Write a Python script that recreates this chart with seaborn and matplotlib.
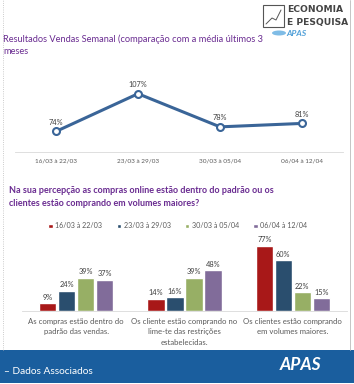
import matplotlib
matplotlib.use("Agg")
import matplotlib.pyplot as plt
import matplotlib.patches as mpatches
import seaborn as sns
import pandas as pd

# data
weeks = ["16/03 à 22/03", "23/03 à 29/03", "30/03 à 05/04", "06/04 à 12/04"]
sales_vs_avg = [74, 107, 78, 81]

answers = ["As compras estão dentro do\npadrão das vendas.",
           "Os cliente estão comprando no\nlime-te das restrições\nestabelecidas.",
           "Os clientes estão comprando\nem volumes maiores."]
wk1 = [9, 14, 77]
wk2 = [24, 16, 60]
wk3 = [39, 39, 22]
wk4 = [37, 48, 15]

bar_colors = ["#C00000", "#1F4E79", "#9BBB59", "#8064A2"]
purple = "#6A2C91"
gray = "#595959"

sns.set_theme(style="white")
plt.rcParams["font.family"] = ["Lato", "DejaVu Sans"]

fig = plt.figure(figsize=(3.54, 3.84), dpi=100)
W, H = 354, 384

def box(x0, y0, x1, y1):
    # pixel box (top-left origin) -> figure fraction
    return [x0 / W, 1 - y1 / H, (x1 - x0) / W, (y1 - y0) / H]

# page borders
fig.add_artist(plt.Line2D([3 / W, 3 / W], [1 - 350 / H, 1], color="#BBBBBB", lw=0.6, ls=":"))
fig.add_artist(plt.Line2D([350 / W, 350 / W], [1 - 350 / H, 1], color="#BBBBBB", lw=0.6))

# logo top right
fig.add_artist(mpatches.Rectangle((263 / W, 1 - 27 / H), 21 / W, 22 / H, fill=False,
                                  ec="#555555", lw=0.8))
fig.add_artist(plt.Line2D([266 / W, 272 / W, 276 / W, 281 / W],
                          [1 - 24 / H, 1 - 18 / H, 1 - 20 / H, 1 - 10 / H], color="#555555", lw=0.7))
fig.text(287 / W, 1 - 10 / H, "ECONOMIA", fontsize=6.6, fontweight="bold", color="#444444",
         va="center", family=["DejaVu Sans"])
fig.text(287 / W, 1 - 22 / H, "E PESQUISA", fontsize=6.6, fontweight="bold", color="#444444",
         va="center", family=["DejaVu Sans"])
fig.add_artist(mpatches.Ellipse((279 / W, 1 - 33 / H), 14 / W, 5 / H, color="#7FBCE6", lw=0))
fig.text(286 / W, 1 - 33 / H, "APAS", fontsize=6, fontweight="bold", style="italic",
         color="#4F9FD8", va="center")

# titles
fig.text(3 / W, 1 - 39 / H, "Resultados Vendas Semanal (comparação com a média últimos 3",
         fontsize=6.7, color=purple, va="center")
fig.text(3 / W, 1 - 51 / H, "meses", fontsize=6.7, color=purple, va="center")

# line chart
ax1 = fig.add_axes(box(15, 80, 343, 152))
line_df = pd.DataFrame({"week": weeks, "value": sales_vs_avg})
sns.lineplot(data=line_df, x="week", y="value", ax=ax1, color="#3A6598", lw=2.2,
             marker="o", markersize=5, markerfacecolor="white", markeredgecolor="#3A6598",
             markeredgewidth=1.5, sort=False)
for i, v in enumerate(sales_vs_avg):
    ax1.text(i, v + 5, f"{v}%", ha="center", va="bottom", fontsize=5.3, color="#404040")
ax1.set_xlim(-0.5, 3.5)
ax1.set_ylim(56, 119)
ax1.set_xlabel("")
ax1.set_ylabel("")
ax1.set_yticks([])
ax1.tick_params(axis="x", labelsize=4.6, labelcolor=gray, length=0, pad=5)
for s in ["top", "left", "right"]:
    ax1.spines[s].set_visible(False)
ax1.spines["bottom"].set_color("#D9D9D9")
ax1.spines["bottom"].set_linewidth(0.6)

# second title
fig.text(9 / W, 1 - 191 / H, "Na sua percepção as compras online estão dentro do padrão ou os",
         fontsize=6.5, fontweight="bold", color=purple, va="center")
fig.text(9 / W, 1 - 203 / H, "clientes estão comprando em volumes maiores?",
         fontsize=6.5, fontweight="bold", color=purple, va="center")

# bar chart
bar_df = pd.DataFrame({
    "answer": answers * 4,
    "week": [w for w in weeks for _ in answers],
    "value": wk1 + wk2 + wk3 + wk4,
})
ax2 = fig.add_axes(box(22, 240, 347, 311))
sns.barplot(data=bar_df, x="answer", y="value", hue="week", palette=bar_colors,
            ax=ax2, width=0.7, gap=0.08)
for cont in ax2.containers:
    ax2.bar_label(cont, labels=[f"{int(v)}%" for v in cont.datavalues],
                  fontsize=5.3, color="#404040", padding=2)
ax2.set_ylim(0, 84)
ax2.set_xlabel("")
ax2.set_ylabel("")
ax2.set_yticks([])
ax2.tick_params(axis="x", labelsize=5.6, labelcolor=gray, length=0, pad=5)
for lbl in ax2.get_xticklabels():
    lbl.set_linespacing(1.55)
for s in ["top", "left", "right"]:
    ax2.spines[s].set_visible(False)
ax2.spines["bottom"].set_color("#D9D9D9")
ax2.spines["bottom"].set_linewidth(0.6)
ax2.legend(loc="center", bbox_to_anchor=(0.48, 1 + (240 - 226) / 71), ncol=4,
           frameon=False, fontsize=5.1, handlelength=0.6, handleheight=0.6,
           handletextpad=0.4, columnspacing=2.0, labelcolor=gray)

# footer band
fig.add_artist(mpatches.Rectangle((0, 1 - 383 / H), 1, 33 / H, color="#1A5E9E", lw=0))
fig.text(4 / W, 1 - 372 / H, "– Dados Associados", fontsize=7.3, color="white", va="center")
fig.text(280 / W, 1 - 365 / H, "APAS", fontsize=12.5, fontweight="bold", style="italic",
         color="white", va="center")

fig.savefig("out.png", dpi=100)
